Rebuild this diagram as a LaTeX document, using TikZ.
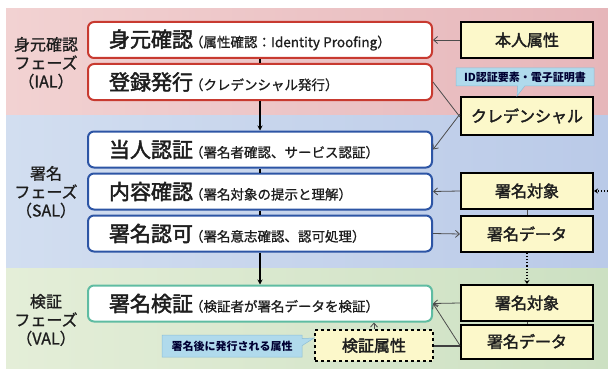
\documentclass[tikz,border=0pt]{standalone}
\usepackage{fontspec}
\setmainfont{Noto Sans CJK JP}
\newfontfamily\jpmed{Noto Sans CJK JP}[FakeBold=2.2]
\newfontfamily\jpsemi{Noto Sans CJK JP}[FakeBold=1]
\usetikzlibrary{arrows.meta,shapes.callouts}
\definecolor{pinkL}{RGB}{242,210,210}
\definecolor{pinkR}{RGB}{230,182,186}
\definecolor{blueL}{RGB}{210,222,240}
\definecolor{blueR}{RGB}{186,202,232}
\definecolor{greenL}{RGB}{228,238,216}
\definecolor{greenR}{RGB}{204,224,194}
\definecolor{redB}{RGB}{200,58,48}
\definecolor{blueB}{RGB}{45,85,165}
\definecolor{tealB}{RGB}{95,188,162}
\definecolor{yellowF}{RGB}{252,248,202}
\definecolor{callF}{RGB}{176,218,236}
\definecolor{callD}{RGB}{140,190,215}
\definecolor{txt}{RGB}{30,30,30}
\begin{document}
\begin{tikzpicture}[x=1pt,y=-1pt,
  mainbox/.style={draw, line width=2pt, rounded corners=6pt, fill=white,
    minimum width=344pt, minimum height=36pt, text width=302pt, align=left,
    inner xsep=21pt, inner ysep=0pt, text=txt},
  ybox/.style={draw=black, line width=2pt, fill=yellowF, minimum width=132pt,
    minimum height=36pt, inner sep=0pt, font=\fontsize{16}{16}\selectfont\jpmed, text=txt},
  phase/.style={align=center, font=\fontsize{16}{18.5}\selectfont\jpsemi, text=txt},
  mainarrow/.style={line width=1.5pt, black, -{Stealth[length=5pt,width=5pt]}},
  mainline/.style={line width=1.2pt, black},
  sidearrow/.style={line width=0.8pt, black!70, -{Straight Barb[length=4pt,width=7pt]}},
  sideline/.style={line width=0.8pt, black!70},
  dotarrow/.style={line width=1.1pt, black, dotted, -{Stealth[length=4pt,width=5pt]}},
  callbox/.style={rectangle callout, fill=callF, draw=callD, line width=0.5pt,
    inner sep=0pt, text=blue!20!black, font=\fontsize{11}{11}\selectfont\bfseries}]
\useasboundingbox (0,0) rectangle (608,369);
% bands
\fill[left color=pinkL, right color=pinkR] (6,9) rectangle (608,115);
\fill[left color=blueL, right color=blueR] (6,115) rectangle (608,268);
\fill[left color=greenL, right color=greenR] (6,268) rectangle (608,369);
% phase labels
\node[phase] (p1) at (46,63) {身元確認\\フェーズ\\（IAL）};
\node[phase] (p2) at (46,192) {署名\\フェーズ\\（SAL）};
\node[phase] (p3) at (46,320) {検証\\フェーズ\\（VAL）};
% main boxes
\newcommand{\mtext}[2]{{\fontsize{21}{21}\selectfont\jpmed #1}\hspace{-3pt}{\fontsize{13.5}{13.5}\selectfont\jpsemi #2}}
\node[mainbox, draw=redB] (b1) at (260,40) {\mtext{身元確認}{（属性確認：Identity Proofing）}};
\node[mainbox, draw=redB] (b2) at (260,82) {\mtext{登録発行}{（クレデンシャル発行）}};
\node[mainbox, draw=blueB] (b3) at (260,149.5) {\mtext{当人認証}{（署名者確認、サービス認証）}};
\node[mainbox, draw=blueB] (b4) at (260,191.5) {\mtext{内容確認}{（署名対象の提示と理解）}};
\node[mainbox, draw=blueB] (b5) at (260,233.5) {\mtext{署名認可}{（署名意志確認、認可処理）}};
\node[mainbox, draw=tealB] (b6) at (260,303.5) {\mtext{署名検証}{（検証者が署名データを検証）}};
% yellow boxes
\node[ybox] (honnin) at (527,40) {本人属性};
\node[ybox, minimum height=38pt] (cred) at (527,116) {クレデンシャル};
\node[ybox] (t1) at (527,191) {署名対象};
\node[ybox] (d1) at (527,234) {署名データ};
\node[ybox] (t2) at (527,303) {署名対象};
\node[ybox, minimum height=34pt] (d2) at (527,341.5) {署名データ};
\node[ybox, dashed, minimum width=118pt, minimum height=31pt] (ken) at (374,345.5) {検証属性};
% callouts
\node[callbox, minimum width=138pt, minimum height=18pt, callout absolute pointer={(517,96)}] (c1) at (525,77) {ID認証要素・電子証明書};
\node[callbox, minimum width=140pt, minimum height=22pt, callout absolute pointer={(314,338)}] (c2) at (232,346) {署名後に発行される属性};
% main flow
\draw[mainline] (b1.south) -- (b2.north);
\draw[mainarrow] (b2.south) -- (b3.north);
\draw[mainline] (b3.south) -- (b4.north);
\draw[mainline] (b4.south) -- (b5.north);
\draw[mainarrow] (b5.south) -- (b6.north);
% side connectors
\draw[sidearrow] (honnin.west) -- (b1.east);
\draw[sideline] (b2.east) -- ([yshift=-1pt]cred.west);
\draw[sidearrow] ([yshift=2pt]cred.west) -- (b3.east);
\draw[sidearrow] (t1.west) -- (b4.east);
\draw[sidearrow] (b5.east) -- (d1.west);
\draw[sideline] (t1.south) -- (d1.north);
\coordinate (ext) at (608,191);
\draw[dotarrow] (ext) -- (t1.east);
\draw[dotarrow] (d1.south) -- (t2.north);
\draw[sidearrow] (t2.west) -- (b6.east);
\draw[sidearrow] ([yshift=-4pt]d2.west) -- (b6.east);
\draw[sideline] (t2.south) -- (d2.north);
\draw[sidearrow] (ken.north) -- (ken.north |- b6.south);
\draw[line width=2pt, black!75] (ken.east) -- (ken.east -| d2.west);
\end{tikzpicture}
\end{document}
